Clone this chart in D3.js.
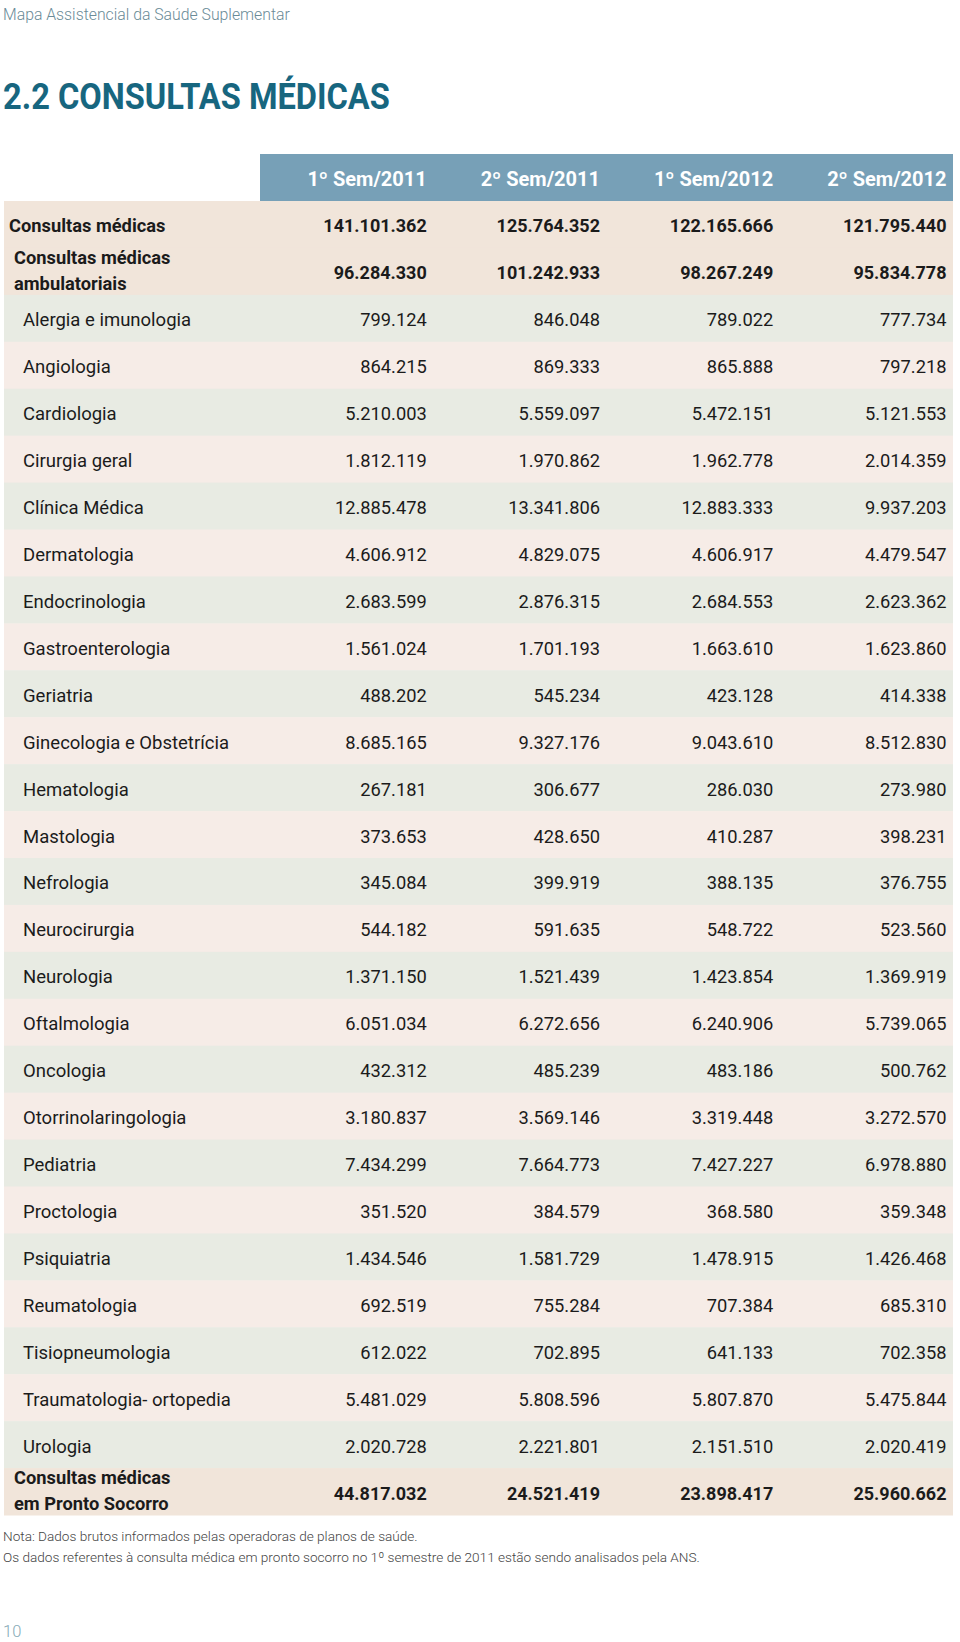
<!DOCTYPE html>
<html>
<head>
<meta charset="utf-8">
<script src="https://cdn.jsdelivr.net/npm/d3@7/dist/d3.min.js"></script>
<style>
  html, body { margin: 0; padding: 0; background: #ffffff; }
  svg { display: block; }
</style>
</head>
<body>
<svg id="chart" width="960" height="1642"></svg>
<script>
// ---------- DATA ----------
const periods = ["1º Sem/2011", "2º Sem/2011", "1º Sem/2012", "2º Sem/2012"];

const categories = [
  "Consultas médicas",
  "Consultas médicas|ambulatoriais",
  "Alergia e imunologia",
  "Angiologia",
  "Cardiologia",
  "Cirurgia geral",
  "Clínica Médica",
  "Dermatologia",
  "Endocrinologia",
  "Gastroenterologia",
  "Geriatria",
  "Ginecologia e Obstetrícia",
  "Hematologia",
  "Mastologia",
  "Nefrologia",
  "Neurocirurgia",
  "Neurologia",
  "Oftalmologia",
  "Oncologia",
  "Otorrinolaringologia",
  "Pediatria",
  "Proctologia",
  "Psiquiatria",
  "Reumatologia",
  "Tisiopneumologia",
  "Traumatologia- ortopedia",
  "Urologia",
  "Consultas médicas|em Pronto Socorro"
];

// row level: 0 = total, 1 = subtotal, 2 = specialty
const levels = [0, 1, 2,2,2,2,2,2,2,2,2,2,2,2,2,2,2,2,2,2,2,2,2,2,2,2,2, 1];

const sem1_2011 = [141101362, 96284330, 799124, 864215, 5210003, 1812119, 12885478, 4606912, 2683599, 1561024, 488202, 8685165, 267181, 373653, 345084, 544182, 1371150, 6051034, 432312, 3180837, 7434299, 351520, 1434546, 692519, 612022, 5481029, 2020728, 44817032];
const sem2_2011 = [125764352, 101242933, 846048, 869333, 5559097, 1970862, 13341806, 4829075, 2876315, 1701193, 545234, 9327176, 306677, 428650, 399919, 591635, 1521439, 6272656, 485239, 3569146, 7664773, 384579, 1581729, 755284, 702895, 5808596, 2221801, 24521419];
const sem1_2012 = [122165666, 98267249, 789022, 865888, 5472151, 1962778, 12883333, 4606917, 2684553, 1663610, 423128, 9043610, 286030, 410287, 388135, 548722, 1423854, 6240906, 483186, 3319448, 7427227, 368580, 1478915, 707384, 641133, 5807870, 2151510, 23898417];
const sem2_2012 = [121795440, 95834778, 777734, 797218, 5121553, 2014359, 9937203, 4479547, 2623362, 1623860, 414338, 8512830, 273980, 398231, 376755, 523560, 1369919, 5739065, 500762, 3272570, 6978880, 359348, 1426468, 685310, 702358, 5475844, 2020419, 25960662];

const series = [sem1_2011, sem2_2011, sem1_2012, sem2_2012];

const pageHeader = "Mapa Assistencial da Saúde Suplementar";
const title = "2.2 CONSULTAS MÉDICAS";
const notes = [
  "Nota: Dados brutos informados pelas operadoras de planos de saúde.",
  "Os dados referentes à consulta médica em pronto socorro no 1º semestre de 2011 estão sendo analisados pela ANS."
];
const pageNumber = "10";

// ---------- STYLE ----------
const FONT = "Roboto, 'Liberation Sans', sans-serif";
const colors = {
  header: "#77a0b7",
  total: "#f1e5da",
  green: "#e8ebe3",
  pink: "#f6ece7",
  text: "#1b1b1b",
  title: "#17667f",
  sub: "#6a8b97",
  note: "#444444",
  page: "#86aab6"
};

const ptBR = d3.formatLocale({ decimal: ",", thousands: ".", grouping: [3], currency: ["R$", ""] });
const fmt = ptBR.format(",d");

// ---------- LAYOUT ----------
const svg = d3.select("#chart");
const tableLeft = 4, tableRight = 953;
const colStart = 260;
const headerTop = 154, headerBottom = 201;
const bodyBottom = 1515;

const y = d3.scaleBand().domain(d3.range(categories.length)).range([headerBottom, bodyBottom]).paddingInner(0);
const x = d3.scaleBand().domain(periods).range([colStart, tableRight]).paddingInner(0);
const colRight = p => x(p) + x.bandwidth() - 6.5;

// page header
svg.append("text")
  .attr("x", 3).attr("y", 19.5)
  .attr("font-family", FONT).attr("font-weight", 300).attr("font-size", 15.8)
  .attr("fill", colors.sub)
  .text(pageHeader);

// title (condensed by horizontal scaling to match the condensed face)
const titleText = svg.append("text")
  .attr("x", 0).attr("y", 0)
  .attr("font-family", FONT).attr("font-weight", "bold").attr("font-size", 37)
  .attr("fill", colors.title)
  .text(title);
const tw = titleText.node().getComputedTextLength();
const titleWidth = 387;
titleText.attr("transform", `translate(3,108.5) scale(${titleWidth / tw},1)`);

// header band
svg.append("rect")
  .attr("x", colStart).attr("y", headerTop)
  .attr("width", tableRight - colStart).attr("height", headerBottom - headerTop)
  .attr("fill", colors.header);

svg.append("g").selectAll("text").data(periods).join("text")
  .attr("x", d => colRight(d))
  .attr("y", (headerTop + headerBottom) / 2 + 8)
  .attr("text-anchor", "end")
  .attr("font-family", FONT).attr("font-weight", "bold").attr("font-size", 20)
  .attr("fill", "#ffffff")
  .text(d => d);

// rows
const rowColor = (i) => {
  if (levels[i] < 2) return colors.total;
  return (i % 2 === 0) ? colors.green : colors.pink;
};

const rows = svg.append("g").selectAll("g").data(categories).join("g")
  .attr("transform", (d, i) => `translate(0,${y(i)})`);

rows.append("rect")
  .attr("x", tableLeft).attr("y", 0)
  .attr("width", tableRight - tableLeft).attr("height", y.bandwidth() + 0.5)
  .attr("fill", (d, i) => rowColor(i));

const labelX = [9, 14, 23];
const mid = y.bandwidth() / 2;

rows.each(function (d, i) {
  const g = d3.select(this);
  const bold = levels[i] < 2;
  const lines = d.split("|");
  const t = g.append("text")
    .attr("x", labelX[levels[i]])
    .attr("font-family", FONT)
    .attr("font-weight", bold ? "bold" : "normal")
    .attr("font-size", bold ? 18.3 : 18.5)
    .attr("fill", colors.text);
  if (lines.length === 1) {
    t.attr("y", mid + 8).text(lines[0]);
  } else {
    t.selectAll("tspan").data(lines).join("tspan")
      .attr("x", labelX[levels[i]])
      .attr("y", (l, k) => k === 0 ? mid - 7.5 : mid + 18.5)
      .text(l => l);
  }
  periods.forEach((p, c) => {
    g.append("text")
      .attr("x", colRight(p))
      .attr("y", mid + 8)
      .attr("text-anchor", "end")
      .attr("font-family", FONT)
      .attr("font-weight", bold ? "bold" : "normal")
      .attr("font-size", bold ? 18 : 18.3)
      .attr("fill", colors.text)
      .text(fmt(series[c][i]));
  });
});

// notes
svg.append("g").selectAll("text").data(notes).join("text")
  .attr("x", 3)
  .attr("y", (d, i) => 1541 + i * 20.5)
  .attr("font-family", FONT).attr("font-weight", 300).attr("font-size", 13.6)
  .attr("fill", colors.note)
  .text(d => d);

// page number
svg.append("text")
  .attr("x", 3).attr("y", 1637)
  .attr("font-family", FONT).attr("font-weight", 300).attr("font-size", 16.5)
  .attr("fill", colors.page)
  .text(pageNumber);
</script>
</body>
</html>
